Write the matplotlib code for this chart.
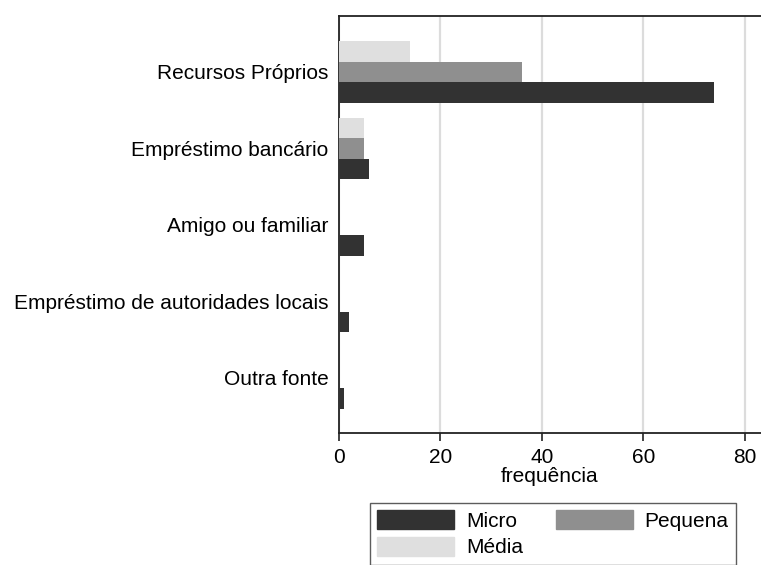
import numpy as np
import matplotlib
matplotlib.use("Agg")
import matplotlib.pyplot as plt
from matplotlib.patches import Patch

# fontes de financiamento por dimensão da empresa
categorias = [
    "Recursos Próprios",
    "Empréstimo bancário",
    "Amigo ou familiar",
    "Empréstimo de autoridades locais",
    "Outra fonte",
]
micro = [74, 6, 5, 2, 1]
pequena = [36, 5, 0, 0, 0]
media = [14, 5, 0, 0, 0]

x_ticks = [0, 20, 40, 60, 80]

cor_micro = "#323232"
cor_pequena = "#8f8f8f"
cor_media = "#dfdfdf"

plt.rcParams["font.family"] = ["Liberation Sans", "DejaVu Sans"]
fs = 15

fig = plt.figure(figsize=(7.61, 5.65), dpi=100)
ax = fig.add_axes([339 / 761, 1 - 433 / 565, 1 - 339 / 761, (433 - 16) / 565])

pos = np.arange(len(categorias))
h = 0.268
ax.barh(pos - h, media, height=h, color=cor_media, linewidth=0, zorder=3)
ax.barh(pos, pequena, height=h, color=cor_pequena, linewidth=0, zorder=3)
ax.barh(pos + h, micro, height=h, color=cor_micro, linewidth=0, zorder=3)

ax.set_ylim(len(categorias) - 1 + 0.72, -0.73)
ax.set_xlim(0, 83.2)

ax.set_yticks(pos)
ax.set_yticklabels(categorias, fontsize=fs)
ax.tick_params(axis="y", length=0, pad=7.5)

ax.set_xticks(x_ticks)
ax.set_xticklabels([str(t) for t in x_ticks], fontsize=fs)
ax.tick_params(axis="x", length=6, width=1.2, color="#222222", pad=5)
ax.set_xlabel("frequência", fontsize=fs, labelpad=0)

ax.grid(axis="x", color="#dcdcdc", linewidth=1.6, zorder=0)
ax.set_axisbelow(True)

for lado in ["left", "bottom", "top"]:
    ax.spines[lado].set_color("#222222")
    ax.spines[lado].set_linewidth(1.3)
ax.spines["right"].set_visible(False)

handles = [
    Patch(facecolor=cor_micro, edgecolor=cor_micro, label="Micro"),
    Patch(facecolor=cor_media, edgecolor=cor_media, label="Média"),
    Patch(facecolor=cor_pequena, edgecolor=cor_pequena, label="Pequena"),
]
leg = fig.legend(
    handles=handles,
    ncol=2,
    loc="upper left",
    bbox_to_anchor=(370 / 761, 1 - 503 / 565),
    fontsize=fs,
    frameon=True,
    fancybox=False,
    edgecolor="#333333",
    handlelength=3.7,
    handleheight=1.0,
    handletextpad=0.55,
    columnspacing=1.6,
    labelspacing=0.3,
    borderpad=0.35,
    borderaxespad=0,
)
leg.get_frame().set_linewidth(1.0)

fig.savefig("out.png", dpi=100)
